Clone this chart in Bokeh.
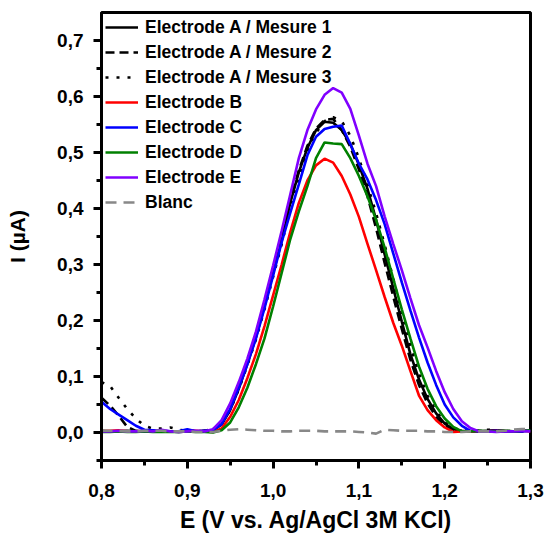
from bokeh.plotting import figure
from bokeh.models import Range1d, FixedTicker, CustomJSTickFormatter, Legend, LegendItem
from bokeh.embed import file_html
from bokeh.resources import INLINE

E = [0.80, 0.81, 0.82, 0.83, 0.84, 0.85, 0.86, 0.87, 0.88, 0.89,
     0.90, 0.91, 0.92, 0.93, 0.94, 0.95, 0.96, 0.97, 0.98, 0.99,
     1.00, 1.01, 1.02, 1.03, 1.04, 1.05, 1.06, 1.07, 1.08, 1.09,
     1.10, 1.11, 1.12, 1.13, 1.14, 1.15, 1.16, 1.17, 1.18, 1.19,
     1.20, 1.21, 1.22, 1.23, 1.24, 1.25, 1.26, 1.27, 1.28, 1.29, 1.30]

elec_a1 = [0.003, 0.002, 0.002, 0.003, 0.002, 0.002, 0.003, 0.002, 0.002, 0.001,
           0.002, 0.002, 0.002, 0.004, 0.014, 0.040, 0.078, 0.122, 0.170, 0.226,
           0.285, 0.342, 0.410, 0.465, 0.508, 0.540, 0.555, 0.553, 0.540, 0.515,
           0.478, 0.435, 0.380, 0.318, 0.258, 0.198, 0.140, 0.095, 0.060, 0.034,
           0.016, 0.006, 0.003, 0.002, 0.002, 0.003, 0.004, 0.002, 0.002, 0.003, 0.003]

elec_a2 = [0.062, 0.048, 0.030, 0.010, 0.003, 0.002, 0.002, 0.002, 0.002, 0.002,
           0.002, 0.002, 0.003, 0.006, 0.018, 0.045, 0.084, 0.128, 0.176, 0.232,
           0.290, 0.348, 0.414, 0.468, 0.512, 0.543, 0.558, 0.560, 0.540, 0.510,
           0.470, 0.422, 0.365, 0.303, 0.243, 0.185, 0.130, 0.085, 0.052, 0.028,
           0.012, 0.004, 0.002, 0.002, 0.003, 0.002, 0.004, 0.003, 0.002, 0.002, 0.003]

elec_a3 = [0.090, 0.083, 0.062, 0.042, 0.025, 0.012, 0.007, 0.007, 0.009, 0.005,
           0.003, 0.003, 0.003, 0.005, 0.015, 0.040, 0.077, 0.120, 0.166, 0.220,
           0.278, 0.336, 0.400, 0.455, 0.500, 0.535, 0.556, 0.563, 0.556, 0.530,
           0.490, 0.442, 0.392, 0.335, 0.275, 0.213, 0.155, 0.105, 0.066, 0.038,
           0.018, 0.008, 0.004, 0.003, 0.003, 0.005, 0.004, 0.003, 0.002, 0.002, 0.003]

elec_b = [0.002, 0.003, 0.004, 0.002, 0.002, 0.003, 0.002, 0.002, 0.002, 0.002,
          0.002, 0.003, 0.002, 0.001, 0.007, 0.028, 0.058, 0.097, 0.140, 0.190,
          0.245, 0.300, 0.358, 0.410, 0.450, 0.477, 0.489, 0.482, 0.458, 0.425,
          0.385, 0.337, 0.290, 0.242, 0.196, 0.155, 0.110, 0.066, 0.040, 0.022,
          0.009, 0.001, 0.002, 0.002, 0.002, 0.002, 0.003, 0.002, 0.002, 0.003, 0.002]

elec_c = [0.055, 0.042, 0.032, 0.022, 0.012, 0.005, 0.004, 0.003, 0.002, 0.002,
          0.006, 0.002, 0.003, 0.004, 0.015, 0.042, 0.080, 0.122, 0.168, 0.222,
          0.280, 0.340, 0.392, 0.443, 0.495, 0.528, 0.542, 0.546, 0.548, 0.515,
          0.480, 0.452, 0.415, 0.372, 0.320, 0.268, 0.218, 0.170, 0.125, 0.085,
          0.050, 0.027, 0.012, 0.003, 0.002, 0.002, 0.003, 0.002, 0.002, 0.002, 0.003]

elec_d = [0.001, 0.001, 0.002, 0.001, 0.001, 0.002, 0.001, 0.001, 0.001, 0.001,
          0.002, 0.001, 0.001, 0.000, 0.004, 0.018, 0.045, 0.080, 0.122, 0.168,
          0.225, 0.285, 0.345, 0.395, 0.440, 0.490, 0.518, 0.516, 0.515, 0.490,
          0.458, 0.422, 0.380, 0.330, 0.275, 0.220, 0.168, 0.118, 0.078, 0.047,
          0.025, 0.010, 0.002, 0.002, 0.003, 0.002, 0.002, 0.003, 0.002, 0.003, 0.004]

elec_e = [0.002, 0.002, 0.003, 0.002, 0.002, 0.003, 0.002, 0.005, 0.002, 0.001,
          0.002, 0.003, 0.002, 0.006, 0.022, 0.052, 0.090, 0.132, 0.180, 0.238,
          0.298, 0.360, 0.425, 0.490, 0.540, 0.577, 0.603, 0.615, 0.607, 0.578,
          0.530, 0.480, 0.440, 0.386, 0.337, 0.290, 0.240, 0.192, 0.152, 0.110,
          0.072, 0.042, 0.020, 0.008, 0.002, 0.002, 0.001, 0.002, 0.002, 0.003, 0.002]

blanc = [0.003, 0.003, 0.003, 0.002, 0.002, 0.003, 0.003, 0.003, 0.002, 0.002,
         0.002, 0.001, 0.001, 0.001, 0.003, 0.005, 0.006, 0.005, 0.004, 0.003,
         0.003, 0.002, 0.002, 0.003, 0.003, 0.003, 0.002, 0.002, 0.002, 0.002,
         0.001, 0.000, -0.002, 0.005, 0.004, 0.003, 0.003, 0.003, 0.002, 0.002,
         0.001, 0.001, 0.001, 0.002, 0.002, 0.002, 0.002, 0.003, 0.005, 0.006, 0.006]

x_ticks = [0.8, 0.9, 1.0, 1.1, 1.2, 1.3]
x_minor = [0.85, 0.95, 1.05, 1.15, 1.25]
y_ticks = [0.0, 0.1, 0.2, 0.3, 0.4, 0.5, 0.6, 0.7]
y_minor = [-0.05, 0.05, 0.15, 0.25, 0.35, 0.45, 0.55, 0.65]

x_title = "E (V vs. Ag/AgCl 3M KCl)"
y_title = "I (µA)"

series = [
    ("Electrode A / Mesure 1", elec_a1, "black", "solid"),
    ("Electrode A / Mesure 2", elec_a2, "black", "9 5"),
    ("Electrode A / Mesure 3", elec_a3, "black", "3 8"),
    ("Electrode B", elec_b, "#ff0000", "solid"),
    ("Electrode C", elec_c, "#0000ff", "solid"),
    ("Electrode D", elec_d, "#008000", "solid"),
    ("Electrode E", elec_e, "#8000ff", "solid"),
    ("Blanc", blanc, "#888888", "11 7"),
]

FONT = "Liberation Sans"

p = figure(width=545, height=535, output_backend="svg", toolbar_location=None,
           x_range=Range1d(0.8, 1.3), y_range=Range1d(-0.05, 0.75),
           min_border_left=101, min_border_right=15, min_border_top=12,
           min_border_bottom=75)

p.xgrid.visible = False
p.ygrid.visible = False
p.outline_line_color = "black"
p.outline_line_width = 3
p.background_fill_color = "white"
p.border_fill_color = "white"

items = []
for name, ys, col, dash in series:
    r = p.line(E, ys, line_color=col, line_width=2.6, line_dash=dash)
    items.append(LegendItem(label=name, renderers=[r]))

fmt = CustomJSTickFormatter(code="return tick.toFixed(1).replace('.', ',');")
for ax, tk, mn in ((p.xaxis[0], x_ticks, x_minor), (p.yaxis[0], y_ticks, y_minor)):
    ax.ticker = FixedTicker(ticks=tk, minor_ticks=mn)
    ax.formatter = fmt
    ax.axis_line_width = 3
    ax.major_tick_line_width = 3
    ax.minor_tick_line_width = 3
    ax.major_tick_in = 0
    ax.major_tick_out = 8
    ax.minor_tick_in = 0
    ax.minor_tick_out = 5
    ax.major_label_text_font = FONT
    ax.major_label_text_font_style = "bold"
    ax.major_label_text_font_size = "19px"
    ax.major_label_text_color = "black"
    ax.axis_label_text_font = FONT
    ax.axis_label_text_font_style = "bold"
    ax.axis_label_text_color = "black"

p.xaxis[0].axis_label = x_title
p.xaxis[0].axis_label_text_font_size = "23px"
p.xaxis[0].major_label_standoff = 15
p.xaxis[0].axis_label_standoff = 7

p.yaxis[0].axis_label = y_title
p.yaxis[0].axis_label_text_font_size = "21px"
p.yaxis[0].major_label_standoff = 10
p.yaxis[0].axis_label_standoff = 25

legend = Legend(items=items, location="top_left")
legend.border_line_alpha = 0
legend.background_fill_alpha = 0
legend.margin = 0
legend.padding = 4
legend.spacing = 3
legend.label_height = 22
legend.glyph_height = 22
legend.glyph_width = 33
legend.label_standoff = 7
legend.label_text_font = FONT
legend.label_text_font_style = "bold"
legend.label_text_font_size = "17.5px"
legend.label_text_color = "black"
p.add_layout(legend)

open("out.html", "w").write(file_html(p, INLINE))
